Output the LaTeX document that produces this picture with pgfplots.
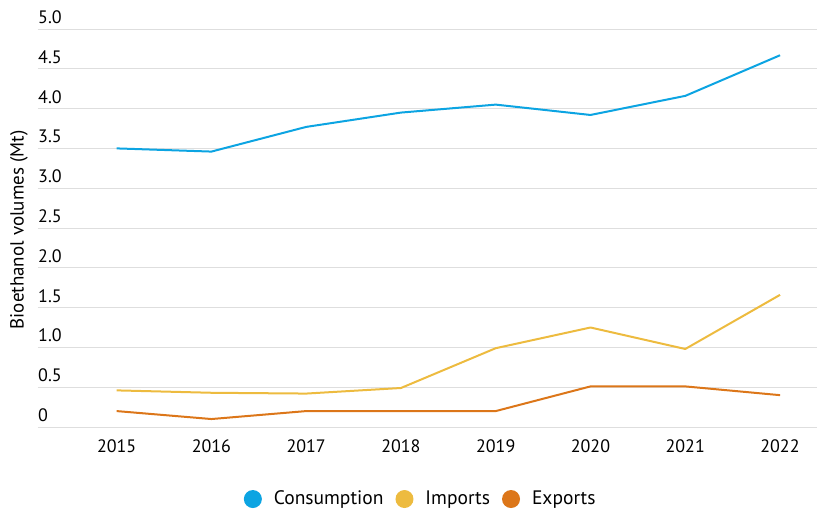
\documentclass[border=0pt]{standalone}
\usepackage{pgfplots}
\pgfplotsset{compat=1.18}
\usepackage{fontspec}
\setmainfont{PT Sans}

\definecolor{consblue}{RGB}{12,164,226}
\definecolor{impyellow}{RGB}{237,187,63}
\definecolor{exporange}{RGB}{220,118,25}

\begin{document}
\fontsize{18bp}{22bp}\selectfont
\begin{tikzpicture}
    \useasboundingbox (-38bp,-82bp) rectangle (779bp,427bp);
    \begin{axis}[
        scale only axis,
        width=779bp, height=398bp,
        xmin=2014.17, xmax=2022.39,
        ymin=0, ymax=5,
        xtick={2015,...,2022},
        xticklabel style={/pgf/number format/1000 sep={}, yshift=-6bp},
        ytick={0,0.5,...,5},
        yticklabels={0,0.5,1.0,1.5,2.0,2.5,3.0,3.5,4.0,4.5,5.0},
        yticklabel style={anchor=south west, inner sep=0pt, xshift=0bp, yshift=5bp},
        /pgf/number format/assume math mode=true,
        ticklabel style={font=\fontsize{18bp}{22bp}\selectfont},
        axis line style={draw=none},
        major tick length=0pt,
        ymajorgrids,
        grid style={color=black!13, line width=0.9bp},
        ylabel={Bioethanol volumes (Mt)},
        ylabel style={at={(axis description cs:0,0.5)}, anchor=center,
            yshift=19bp, xshift=-2bp, font=\fontsize{19bp}{22bp}\selectfont},
        legend columns=-1,
        legend style={draw=none, at={(0.490,-0.181)}, anchor=center,
            font=\fontsize{19.5bp}{23bp}\selectfont,
            nodes={inner xsep=0pt},
            /tikz/every even column/.append style={column sep=12bp}},
        legend image code/.code={\fill[#1, draw=none] (9bp,0bp) circle (9bp);
            \path[draw=none] (0bp,0bp) -- (30bp,0bp);},
        every axis plot/.append style={line width=2bp, line join=round},
        clip=false,
    ]
    \addplot[color=consblue] coordinates {
        (2015,3.50) (2016,3.46) (2017,3.77) (2018,3.95)
        (2019,4.05) (2020,3.92) (2021,4.16) (2022,4.67)
    };
    \addlegendentry{Consumption}
    \addplot[color=impyellow] coordinates {
        (2015,0.46) (2016,0.43) (2017,0.42) (2018,0.49)
        (2019,0.99) (2020,1.25) (2021,0.98) (2022,1.66)
    };
    \addlegendentry{Imports}
    \addplot[color=exporange] coordinates {
        (2015,0.20) (2016,0.10) (2017,0.20) (2018,0.20)
        (2019,0.20) (2020,0.51) (2021,0.51) (2022,0.40)
    };
    \addlegendentry{Exports}
    \end{axis}
\end{tikzpicture}
\end{document}
